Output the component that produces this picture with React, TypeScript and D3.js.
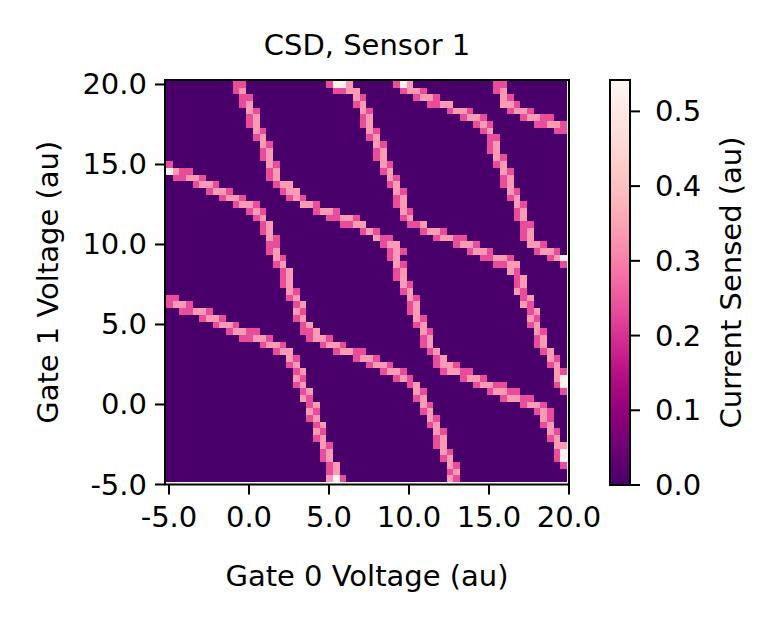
import React from "react";
import * as d3 from "d3";

const title = "CSD, Sensor 1";
const xLabel = "Gate 0 Voltage (au)";
const yLabel = "Gate 1 Voltage (au)";
const cbLabel = "Current Sensed (au)";

const xTicks = [-5, 0, 5, 10, 15, 20];
const yTicks = [-5, 0, 5, 10, 15, 20];
const cbTicks = [0, 0.1, 0.2, 0.3, 0.4, 0.5];

// 60 x 60 sensor scan
const gridSize = 60;
const xExtent = [-5.19, 19.875];
const yExtent = [-4.84, 20.22];
const cbMax = 0.542;

// sensed current for each cell code along the transition lines
const levelValues: Record<string, number> = { p: 0.235, l: 0.335, w: 0.52 };

// transition lines: [row from top, first column, cell codes]
const lineA: [number, number, string][] = [
  [0, 10, "pp"], [1, 10, "pl"], [2, 11, "pp"], [3, 11, "pl"], [4, 12, "lp"],
  [5, 12, "pl"], [6, 12, "pl"], [7, 13, "lp"], [8, 13, "pl"], [9, 14, "lp"],
  [10, 14, "pl"], [11, 14, "pl"], [12, 15, "lp"], [13, 15, "pl"], [14, 15, "pl"],
  [15, 16, "pll"], [16, 17, "pll"], [17, 18, "plp"], [18, 20, "llp"], [19, 22, "pllp"],
  [20, 24, "ppllp"], [21, 26, "ppll"], [22, 29, "plp"], [23, 31, "lpp"], [24, 32, "pll"],
  [25, 33, "plp"], [26, 33, "pl"], [27, 34, "lp"], [28, 34, "pl"], [29, 34, "pl"],
  [30, 35, "lp"], [31, 35, "pl"], [32, 36, "lp"], [33, 36, "pl"], [34, 36, "pl"],
  [35, 37, "lp"], [36, 37, "pl"], [37, 38, "lp"], [38, 38, "pl"], [39, 38, "pl"],
  [40, 39, "pl"], [41, 40, "pl"], [42, 40, "pllp"], [43, 41, "pllpp"], [44, 44, "pllp"],
  [45, 46, "pllpp"], [46, 48, "pllpp"], [47, 50, "pllpp"], [48, 53, "pllp"], [49, 55, "plp"],
  [50, 56, "lp"], [51, 56, "pl"], [52, 57, "lp"], [53, 57, "pl"], [54, 58, "ll"],
  [55, 58, "pw"], [56, 58, "pw"], [57, 59, "p"],
];

const lineB: [number, number, string][] = [
  [0, 24, "pwwl"], [1, 25, "ppll"], [2, 28, "lp"], [3, 28, "pl"], [4, 29, "lp"],
  [5, 29, "pl"], [6, 29, "pl"], [7, 30, "lp"], [8, 30, "pl"], [9, 31, "lp"],
  [10, 31, "pl"], [11, 31, "pl"], [12, 32, "lp"], [13, 32, "pl"], [14, 33, "lp"],
  [15, 33, "pl"], [16, 34, "lp"], [17, 34, "pl"], [18, 34, "pl"], [19, 35, "lp"],
  [20, 35, "pl"], [21, 36, "ppl"], [22, 38, "pllp"], [23, 40, "pllpp"], [24, 43, "pllp"],
  [25, 45, "pllp"], [26, 47, "ppllp"], [27, 49, "ppll"], [28, 51, "lp"], [29, 52, "pl"],
  [30, 52, "pl"], [31, 52, "lp"], [32, 53, "pl"], [33, 53, "lp"], [34, 54, "pl"],
  [35, 54, "lp"], [36, 54, "pl"], [37, 55, "lp"], [38, 55, "pl"], [39, 55, "pl"],
  [40, 56, "pl"], [41, 57, "lp"], [42, 57, "pl"], [43, 58, "lp"], [44, 58, "lw"],
  [45, 58, "pw"], [46, 59, "p"],
];

const lineC: [number, number, string][] = [
  [0, 34, "pwl"], [1, 35, "pllp"], [2, 37, "pllp"], [3, 39, "ppll"], [4, 42, "pllp"],
  [5, 44, "pllp"], [6, 46, "plp"], [7, 47, "pl"], [8, 48, "pp"], [9, 48, "pl"],
  [10, 48, "pl"], [11, 49, "lp"], [12, 49, "pl"], [13, 50, "lp"], [14, 50, "pl"],
  [15, 50, "pl"], [16, 51, "lp"], [17, 51, "pl"], [18, 52, "lp"], [19, 52, "pl"],
  [20, 52, "pl"], [21, 53, "pp"], [22, 53, "pl"], [23, 53, "pl"], [24, 54, "llp"],
  [25, 55, "pllp"], [26, 57, "plw"], [27, 59, "p"],
];

const lineD: [number, number, string][] = [
  [0, 49, "pp"], [1, 49, "pl"], [2, 50, "lp"], [3, 50, "llp"], [4, 51, "pllp"],
  [5, 53, "pllpp"], [6, 55, "ppllp"], [7, 58, "pp"],
];

const lineE: [number, number, string][] = [
  [12, 0, "p"], [13, 0, "wlpp"], [14, 1, "ppllp"], [15, 4, "pllp"], [16, 6, "pllp"],
  [17, 8, "pllp"], [18, 10, "pllp"], [19, 12, "plp"], [20, 13, "pl"], [21, 14, "pl"],
  [22, 14, "pl"], [23, 15, "lp"], [24, 15, "pp"], [25, 15, "pl"], [26, 16, "lp"],
  [27, 16, "pl"], [28, 17, "pl"], [29, 17, "pl"], [30, 17, "pl"], [31, 18, "lp"],
  [32, 18, "pl"], [33, 19, "pl"], [34, 19, "lp"], [35, 19, "pl"], [36, 20, "pl"],
  [37, 20, "ppl"], [38, 21, "pllp"], [39, 23, "pllp"], [40, 25, "pllpp"], [41, 28, "pllp"],
  [42, 30, "pllp"], [43, 32, "pllp"], [44, 34, "plp"], [45, 36, "pl"], [46, 37, "lp"],
  [47, 37, "pl"], [48, 38, "lp"], [49, 38, "pl"], [50, 39, "lp"], [51, 39, "pl"],
  [52, 40, "lp"], [53, 40, "pl"], [54, 40, "pl"], [55, 41, "lp"], [56, 41, "pl"],
  [57, 42, "lp"], [58, 42, "pl"], [59, 42, "lp"],
];

const lineF: [number, number, string][] = [
  [32, 0, "pp"], [33, 0, "pllp"], [34, 2, "ppllp"], [35, 5, "pllp"], [36, 7, "pllp"],
  [37, 9, "pllpp"], [38, 11, "ppllp"], [39, 14, "pllp"], [40, 16, "pll"], [41, 18, "lp"],
  [42, 18, "pl"], [43, 19, "pl"], [44, 19, "lp"], [45, 19, "pl"], [46, 20, "pl"],
  [47, 20, "lp"], [48, 21, "pl"], [49, 21, "lp"], [50, 21, "pl"], [51, 22, "pl"],
  [52, 22, "lp"], [53, 22, "pl"], [54, 23, "lp"], [55, 23, "pl"], [56, 23, "pl"],
  [57, 24, "pl"], [58, 24, "pl"], [59, 24, "lwp"],
];

const transitionLines = [lineA, lineB, lineC, lineD, lineE, lineF];

const W = 784;
const H = 623;
const font = "DejaVu Sans";
const fontSize = 29;

function buildGrid(): number[][] {
  const grid = Array.from({ length: gridSize }, () => new Array(gridSize).fill(0));
  for (const line of transitionLines) {
    for (const [row, col, codes] of line) {
      codes.split("").forEach((ch, k) => {
        const c = col + k;
        if (c < gridSize) grid[row][c] = Math.max(grid[row][c], levelValues[ch]);
      });
    }
  }
  return grid;
}

export default function App() {
  const x = d3.scaleLinear().domain([-5.25, 20]).range([165, 569]);
  const y = d3.scaleLinear().domain([-5, 20.28]).range([484.5, 80]);
  const cb = d3.scaleLinear().domain([0, cbMax]).range([485, 80]);
  const color = (v: number) => d3.interpolateRdPu(1 - v / cbMax);

  const grid = buildGrid();
  const dx = (xExtent[1] - xExtent[0]) / gridSize;
  const dy = (yExtent[1] - yExtent[0]) / gridSize;

  const cells: React.ReactNode[] = [];
  grid.forEach((rowVals, r) => {
    const yTop = yExtent[1] - r * dy;
    const py0 = y(yTop);
    const py1 = y(yTop - dy);
    rowVals.forEach((v, c) => {
      const x0 = xExtent[0] + c * dx;
      const px0 = x(x0);
      const px1 = x(x0 + dx);
      cells.push(
        <rect key={`${r}-${c}`} x={px0} y={py0} width={px1 - px0} height={py1 - py0} fill={color(v)} />
      );
    });
  });

  const gradStops = d3.range(0, 1.0001, 0.02);
  const fmt = (v: number) => v.toFixed(1);

  const axLeft = x(-5.25);
  const axRight = x(20);
  const axTop = y(20.28);
  const axBottom = y(-5);

  return (
    <svg
      width={W}
      height={H}
      style={{ position: "absolute", left: 0, top: 0, background: "#fff" }}
      fontFamily={font}
      fontSize={fontSize}
    >
      <defs>
        <linearGradient id="cbGrad" x1="0" y1="1" x2="0" y2="0">
          {gradStops.map((t) => (
            <stop key={t} offset={t} stopColor={color(t * cbMax)} />
          ))}
        </linearGradient>
      </defs>

      <text x={(axLeft + axRight) / 2} y={55} textAnchor="middle">{title}</text>

      <g shapeRendering="crispEdges">{cells}</g>

      <rect x={axLeft} y={axTop} width={axRight - axLeft} height={axBottom - axTop}
        fill="none" stroke="#000" strokeWidth={2} />

      {xTicks.map((t) => (
        <g key={`xt${t}`}>
          <line x1={x(t)} x2={x(t)} y1={axBottom} y2={axBottom + 10} stroke="#000" strokeWidth={2} />
          <text x={x(t)} y={527} textAnchor="middle">{fmt(t)}</text>
        </g>
      ))}
      {yTicks.map((t) => (
        <g key={`yt${t}`}>
          <line x1={axLeft - 10} x2={axLeft} y1={y(t)} y2={y(t)} stroke="#000" strokeWidth={2} />
          <text x={axLeft - 18} y={y(t)} textAnchor="end" dominantBaseline="central">{fmt(t)}</text>
        </g>
      ))}

      <text x={(axLeft + axRight) / 2} y={586} textAnchor="middle">{xLabel}</text>
      <text transform={`translate(58, ${(axTop + axBottom) / 2}) rotate(-90)`} textAnchor="middle">{yLabel}</text>

      <rect x={610} y={cb(cbMax)} width={20} height={cb(0) - cb(cbMax)} fill="url(#cbGrad)" />
      <rect x={610} y={cb(cbMax)} width={20} height={cb(0) - cb(cbMax)} fill="none" stroke="#000" strokeWidth={2} />
      {cbTicks.map((t) => (
        <g key={`cb${t}`}>
          <line x1={630} x2={640} y1={cb(t)} y2={cb(t)} stroke="#000" strokeWidth={2} />
          <text x={655} y={cb(t)} dominantBaseline="central">{fmt(t)}</text>
        </g>
      ))}
      <text transform={`translate(741, ${(cb(0) + cb(cbMax)) / 2}) rotate(-90)`} textAnchor="middle">{cbLabel}</text>
    </svg>
  );
}
